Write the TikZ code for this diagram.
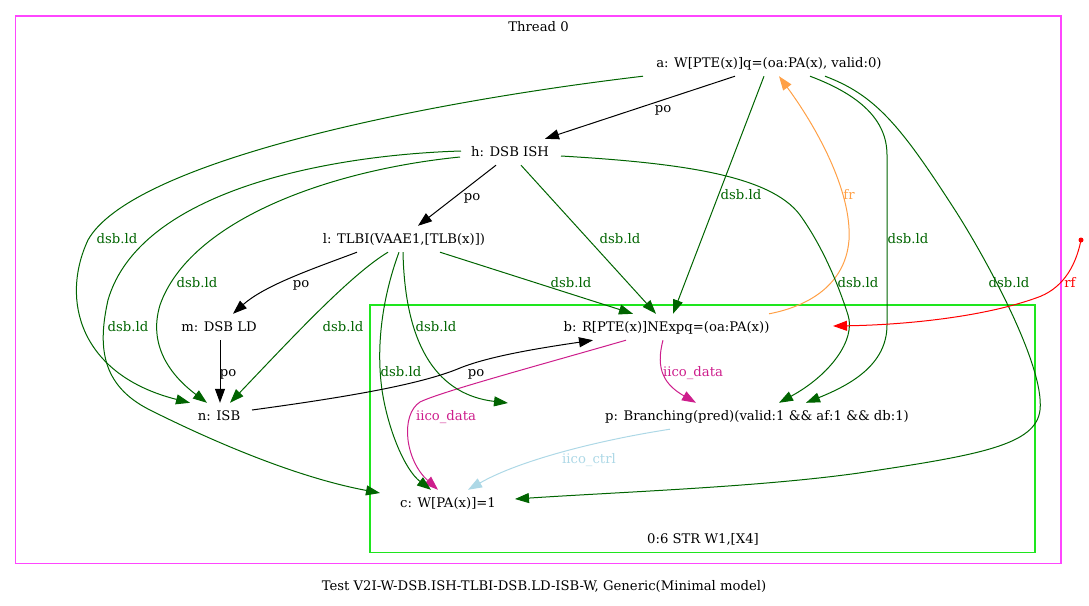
\documentclass[tikz,border=0pt]{standalone}
\usepackage{fontspec}
\setmainfont{DejaVu Serif}
\usetikzlibrary{arrows.meta}
\definecolor{dgreen}{RGB}{0,100,0}
\definecolor{frorange}{RGB}{255,160,70}
\definecolor{colid}{RGB}{205,30,140}
\definecolor{colic}{RGB}{173,216,230}
\definecolor{boxmag}{RGB}{255,70,255}
\definecolor{boxgreen}{RGB}{30,230,30}
\begin{document}
\begin{tikzpicture}[x=1pt,y=-1pt,
  ev/.style={inner sep=0pt, minimum height=26pt, text height=9.5pt, text depth=0pt, font=\fontsize{13.2}{15}\selectfont},
  lbl/.style={inner sep=0pt, text height=9.5pt, text depth=0pt, font=\fontsize{13.2}{15}\selectfont},
  edge/.style={line width=1pt, -{Triangle[length=14pt,width=10pt]}},
  poE/.style={edge, black},
  dsbE/.style={edge, dgreen},
  frE/.style={edge, frorange},
  idE/.style={edge, colid},
  icE/.style={edge, colic},
  rfE/.style={edge, red}]
\useasboundingbox (0,0) rectangle (1089,605);
\draw[boxmag, line width=1.7pt] (15.5,15.8) rectangle (1060.8,563.5);
\draw[boxgreen, line width=1.2pt] (370,305) rectangle (1035,552.5);
\node[lbl] (t0) at (538.5,27) {Thread 0};
\node[lbl] (cl) at (703,539) {0:6 STR W1,[X4]};
\node[lbl] (cap) at (544,586) {Test V2I-W-DSB.ISH-TLBI-DSB.LD-ISB-W, Generic(Minimal model)};

\node[ev] (a) at (769,63) {a: W[PTE(x)]q=(oa:PA(x), valid:0)};
\node[ev] (h) at (510,152) {h: DSB ISH};
\node[ev] (l) at (404,239) {l: TLBI(VAAE1,[TLB(x)])};
\node[ev] (m) at (219,327) {m: DSB LD};
\node[ev] (b) at (666.5,327) {b: R[PTE(x)]NExpq=(oa:PA(x))};
\node[ev] (n) at (219,416) {n: ISB};
\node[ev] (p) at (757,416) {p: Branching(pred)(valid:1 \&\& af:1 \&\& db:1)};
\node[ev] (c) at (448,503) {c: W[PA(x)]=1};
\coordinate (px) at (508,403);
\node[circle, fill=red, inner sep=0pt, minimum size=5pt] (rs) at (1081,240) {};

% a
\draw[poE] (a.south -| 735,0) -- (h.north -| 545,0) node[lbl] at (663,108) {po};
\draw[dsbE] (a.south -| 643,0) .. controls (400,105) and (130,165) .. (88,240)
  .. controls (60,300) and (80,375) .. (n.north -| 190,0) node[lbl] at (117,239) {dsb.ld};
\draw[dsbE] (a.south -| 764,0) -- (b.north -| 673,0) node[lbl] at (741,195) {dsb.ld};
\draw[dsbE] (a.south -| 810,0) .. controls (860,95) and (887,120) .. (887,155) -- (887,325)
  .. controls (887,365) and (850,385) .. (p.north -| 806,0) node[lbl] at (908,239) {dsb.ld};
\draw[dsbE] (a.south -| 825,0) .. controls (875,95) and (900,125) .. (953,207)
  .. controls (983,253) and (1045,365) .. (1040,410)
  .. controls (1036,445) and (980,455) .. (859,473)
  .. controls (760,487) and (620,492) .. ([shift={(67,-4)}]c.center) node[lbl] at (1009,283) {dsb.ld};
% b
\draw[frE] (b.north -| 769,0) .. controls (800,308) and (845,290) .. (849,240)
  .. controls (852,190) and (815,125) .. (a.south -| 779,0) node[lbl] at (849,195) {fr};
\draw[idE] (b.south -| 626,0) .. controls (540,365) and (440,392) .. (420,402)
  .. controls (400,415) and (405,460) .. (c.north -| 438,0) node[lbl] at (446,416) {iico\_data};
\draw[idE] (b.south -| 663,0) .. controls (655,370) and (665,385) .. (p.north -| 696,0) node[lbl] at (693,372) {iico\_data};
% h
\draw[poE] (h.south -| 496,0) -- (l.north -| 418,0) node[lbl] at (472,196) {po};
\draw[dsbE] ([shift={(-49,-1)}]h.center) .. controls (330,155) and (140,190) .. (108,300)
  .. controls (98,345) and (100,385) .. (150,410)
  .. controls (220,445) and (300,478) .. ([shift={(-68,-10)}]c.center) node[lbl] at (128,327) {dsb.ld};
\draw[dsbE] ([shift={(-50,5)}]h.center) .. controls (330,170) and (190,220) .. (160,305)
  .. controls (148,345) and (170,375) .. (n.north -| 207,0) node[lbl] at (197,283) {dsb.ld};
\draw[dsbE] (h.south -| 521,0) -- (b.north -| 656,0) node[lbl] at (620,239) {dsb.ld};
\draw[dsbE] ([shift={(51,4)}]h.center) .. controls (680,163) and (770,175) .. (800,215)
  .. controls (825,250) and (840,290) .. (848,315)
  .. controls (856,340) and (830,375) .. (p.north -| 779,0) node[lbl] at (858,283) {dsb.ld};
% l
\draw[poE] (l.south -| 357,0) .. controls (315,268) and (265,285) .. (m.north -| 233,0) node[lbl] at (301,283) {po};
\draw[dsbE] (l.south -| 388,0) .. controls (350,275) and (290,340) .. (n.north -| 230,0) node[lbl] at (343,327) {dsb.ld};
\draw[dsbE] (l.south -| 399,0) .. controls (385,290) and (375,340) .. (382,390)
  .. controls (388,430) and (405,470) .. (c.north -| 431,0) node[lbl] at (401,372) {dsb.ld};
\draw[dsbE] (l.south -| 403,0) .. controls (405,350) and (440,395) .. (px) node[lbl] at (436,327) {dsb.ld};
\draw[dsbE] (l.south -| 440,0) -- (b.north -| 633,0) node[lbl] at (571,283) {dsb.ld};
% m, n
\draw[poE] (m.south -| 220,0) -- (n.north -| 220,0) node[lbl] at (228,372) {po};
\draw[poE] ([shift={(33,-6)}]n.center) .. controls (340,398) and (420,385) .. (460,368)
  .. controls (490,356) and (540,348) .. (b.south -| 593,0) node[lbl] at (476,372) {po};
% p
\draw[icE] (p.south -| 670,0) .. controls (600,440) and (520,460) .. (c.north -| 468,0) node[lbl] at (589,459) {iico\_ctrl};
% rf
\draw[rfE] (rs.center) .. controls (1075,270) and (1060,290) .. (1036,298)
  .. controls (980,318) and (900,325) .. ([shift={(166.5,-1)}]b.center) node[lbl] at (1070,283) {rf};
\end{tikzpicture}
\end{document}
